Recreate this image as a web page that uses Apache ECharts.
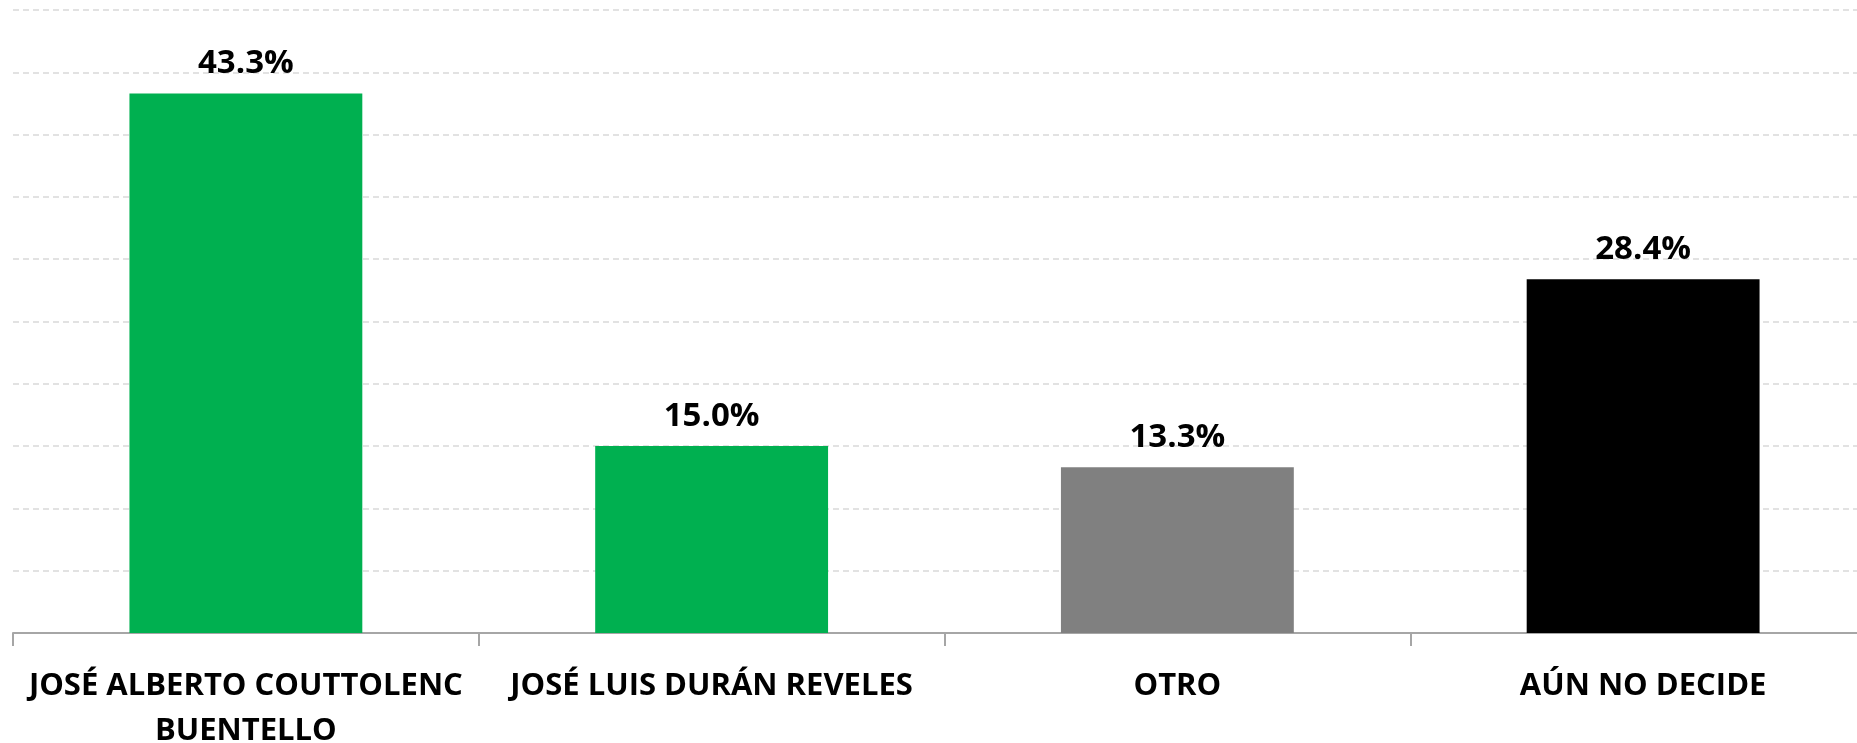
<!DOCTYPE html>
<html>
<head>
<meta charset="utf-8">
<style>
  html, body { margin: 0; padding: 0; background: #fff; overflow: hidden; }
  #chart { width: 1857px; height: 743px; }
</style>
<script src="https://cdn.jsdelivr.net/npm/echarts@6/dist/echarts.min.js"></script>
</head>
<body>
<div id="chart"></div>
<script>
var categories = ["JOSÉ ALBERTO COUTTOLENC\nBUENTELLO", "JOSÉ LUIS DURÁN REVELES", "OTRO", "AÚN NO DECIDE"];
var values = [43.3, 15.0, 13.3, 28.4];
var barColors = ["#00B050", "#00B050", "#808080", "#000000"];

var chart = echarts.init(document.getElementById("chart"));
chart.setOption({
  backgroundColor: "#ffffff",
  animation: false,
  grid: {
    left: 13,
    top: 10,
    width: 1863,
    bottom: 110,
    outerBoundsMode: "none"
  },
  xAxis: {
    type: "category",
    data: categories,
    axisLine: {
      lineStyle: { color: "#a6a6a6", width: 2 }
    },
    axisTick: {
      show: true,
      length: 13,
      lineStyle: { color: "#a6a6a6", width: 2 }
    },
    axisLabel: {
      interval: 0,
      margin: 31,
      color: "#000",
      fontFamily: "Open Sans",
      fontWeight: "bold",
      fontSize: 31,
      lineHeight: 45
    }
  },
  yAxis: {
    type: "value",
    min: 0,
    max: 50,
    interval: 5,
    axisLabel: { show: false },
    axisLine: { show: false },
    axisTick: { show: false },
    splitLine: {
      lineStyle: { color: "#d9d9d9", type: [6, 4], width: 1.5 }
    }
  },
  series: [
    {
      type: "bar",
      barWidth: "50%",
      data: values.map(function (v, i) {
        return { value: v, itemStyle: { color: barColors[i] } };
      }),
      label: {
        show: true,
        position: "top",
        distance: 13,
        formatter: function (p) { return p.value.toFixed(1) + "%"; },
        color: "#000",
        fontFamily: "Open Sans",
        fontWeight: "bold",
        fontSize: 33
      }
    }
  ]
});
</script>
</body>
</html>
